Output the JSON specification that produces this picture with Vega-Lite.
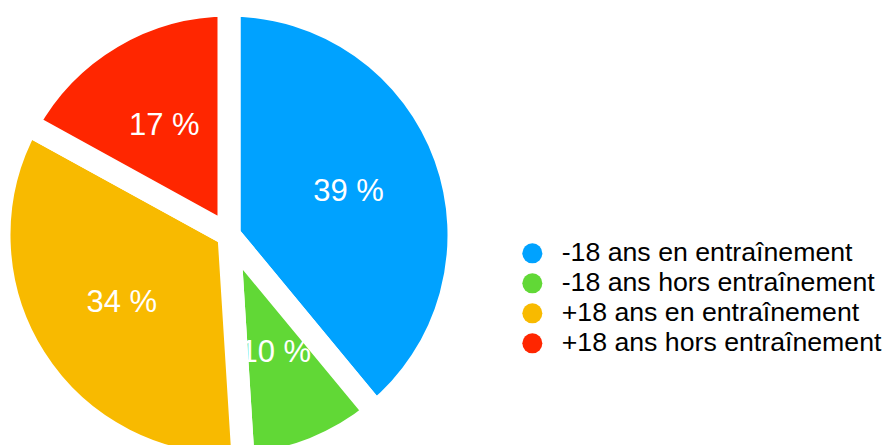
{
  "$schema": "https://vega.github.io/schema/vega-lite/v6.json",
  "width": 458,
  "height": 470,
  "autosize": {"type": "none"},
  "padding": {"left": 0, "top": 0, "right": 427, "bottom": 0},
  "background": "white",
  "data": {
    "values": [
      {"cat": "-18 ans en entraînement", "pct": 39, "label": "39 %", "ordre": 1},
      {"cat": "-18 ans hors entraînement", "pct": 10, "label": "10 %", "ordre": 2},
      {"cat": "+18 ans en entraînement", "pct": 34, "label": "34 %", "ordre": 3},
      {"cat": "+18 ans hors entraînement", "pct": 17, "label": "17 %", "ordre": 4}
    ]
  },
  "layer": [
    {
      "mark": {"type": "arc", "outerRadius": 230, "stroke": "white", "strokeWidth": 23, "strokeJoin": "round"},
      "encoding": {
        "theta": {"field": "pct", "type": "quantitative", "stack": true},
        "order": {"field": "ordre", "type": "quantitative"},
        "color": {
          "field": "cat",
          "type": "nominal",
          "scale": {
            "domain": ["-18 ans en entraînement", "-18 ans hors entraînement", "+18 ans en entraînement", "+18 ans hors entraînement"],
            "range": ["#00A2FF", "#61D836", "#F8BA00", "#FF2600"]
          },
          "legend": {
            "title": null,
            "orient": "none",
            "legendX": 519,
            "legendY": 240,
            "symbolType": "circle",
            "symbolSize": 400,
            "symbolStrokeWidth": 0,
            "labelFont": "Liberation Sans",
            "labelFontSize": 26.7,
            "labelColor": "black",
            "labelOffset": 16,
            "labelLimit": 400,
            "rowPadding": 2
          }
        }
      }
    },
    {
      "mark": {"type": "text", "radius": 127, "fontSize": 31, "font": "Liberation Sans", "fill": "white"},
      "encoding": {
        "theta": {"field": "pct", "type": "quantitative", "stack": true},
        "order": {"field": "ordre", "type": "quantitative"},
        "detail": {"field": "cat", "type": "nominal"},
        "text": {"field": "label", "type": "nominal"}
      }
    }
  ],
  "config": {"view": {"stroke": null}}
}
